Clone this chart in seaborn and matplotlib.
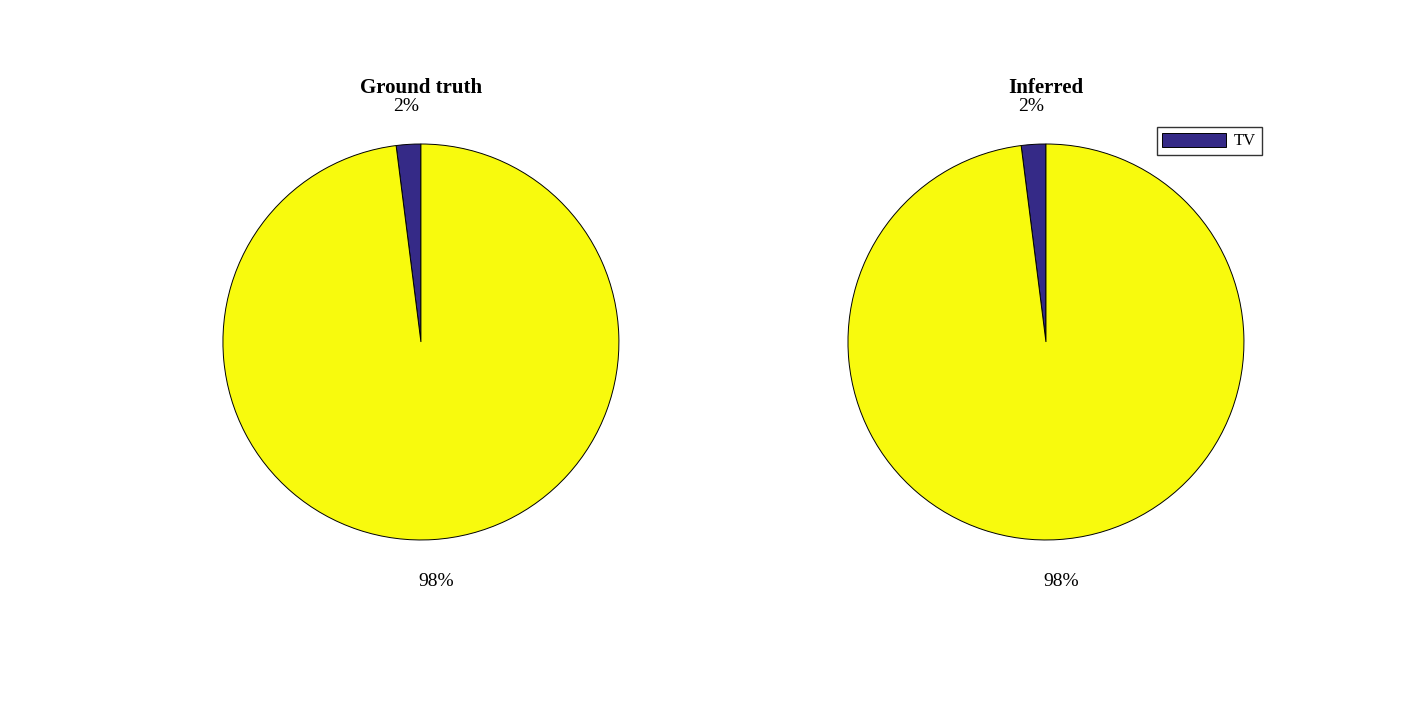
import seaborn as sns
import matplotlib.pyplot as plt

sns.set_style('white')
plt.rcParams['font.family'] = ['Liberation Serif', 'DejaVu Serif']
plt.rcParams['text.color'] = 'black'

# Data
categories = ['TV', '']
ground_truth = [2, 98]
inferred = [2, 98]
titles = ['Ground truth', 'Inferred']
colors = ['#352A87', '#F8FA0D']

fig = plt.figure(figsize=(14.17, 7.09), dpi=100)

# axes placed to match the two pies
ax_gt = fig.add_axes([0.1573, 0.2384, 0.2795, 0.5585])
ax_inf = fig.add_axes([0.5984, 0.2384, 0.2795, 0.5585])

wedges = None
for ax, vals, title in zip([ax_gt, ax_inf], [ground_truth, inferred], titles):
    w, texts = ax.pie(vals, colors=colors, startangle=90, counterclock=True,
                      labels=['%d%%' % v for v in vals], labeldistance=1.2,
                      wedgeprops=dict(edgecolor='black', linewidth=0.7),
                      textprops=dict(fontsize=14, color='black'))
    for t in texts:
        t.set_horizontalalignment('center')
        t.set_verticalalignment('center_baseline')
    ax.set_xlim(-1, 1)
    ax.set_ylim(-1, 1)
    ax.set_aspect('equal')
    ax.set_title(title, fontsize=15, fontweight='bold', color='black',
                 y=1.13, pad=0)
    wedges = w

# Legend only for the first category
fig.legend([wedges[0]], [categories[0]], loc='upper right',
           bbox_to_anchor=(0.8906, 0.8209), fontsize=12, frameon=True,
           fancybox=False, edgecolor='black', handlelength=3.8,
           handleheight=0.9, borderpad=0.35, borderaxespad=0,
           handletextpad=0.5)

fig.savefig('out.png', dpi=100, facecolor='white')
